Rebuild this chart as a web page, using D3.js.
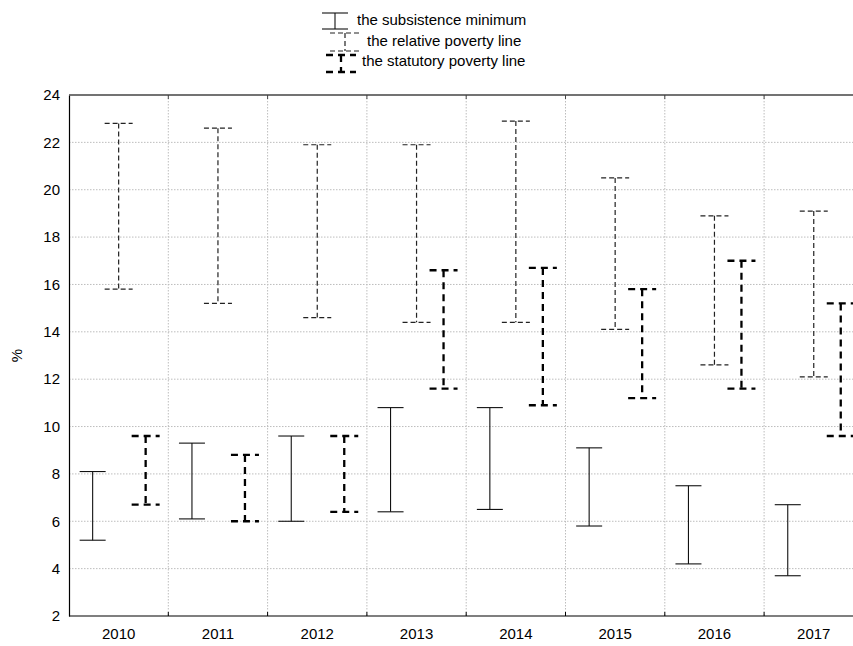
<!DOCTYPE html>
<html>
<head>
<meta charset="utf-8">
<script src="https://cdn.jsdelivr.net/npm/d3@7"></script>
<style>
  body { margin: 0; background: #fff; }
  text { font-family: "Liberation Sans", Arial, sans-serif; }
</style>
</head>
<body>
<svg id="chart" width="853" height="646"></svg>
<script>
const years = ["2010","2011","2012","2013","2014","2015","2016","2017"];
const subsistenceLow  = [5.2, 6.1, 6.0, 6.4, 6.5, 5.8, 4.2, 3.7];
const subsistenceHigh = [8.1, 9.3, 9.6, 10.8, 10.8, 9.1, 7.5, 6.7];
const relativeLow     = [15.8, 15.2, 14.6, 14.4, 14.4, 14.1, 12.6, 12.1];
const relativeHigh    = [22.8, 22.6, 21.9, 21.9, 22.9, 20.5, 18.9, 19.1];
const statutoryLow    = [6.7, 6.0, 6.4, 11.6, 10.9, 11.2, 11.6, 9.6];
const statutoryHigh   = [9.6, 8.8, 9.6, 16.6, 16.7, 15.8, 17.0, 15.2];
const yTicks = [2, 4, 6, 8, 10, 12, 14, 16, 18, 20, 22, 24];
const seriesNames = ["the subsistence minimum", "the relative poverty line", "the statutory poverty line"];

const styles = [
  { stroke: "#111", width: 1.1, dash: null, offset: -26, cap: 26 },
  { stroke: "#222", width: 1.2, dash: "5,3", offset: 0, cap: 28 },
  { stroke: "#000", width: 2.3, dash: "7,5", offset: 27, cap: 28 }
];
const series = [
  years.map((y, i) => ({ year: y, lo: subsistenceLow[i], hi: subsistenceHigh[i] })),
  years.map((y, i) => ({ year: y, lo: relativeLow[i], hi: relativeHigh[i] })),
  years.map((y, i) => ({ year: y, lo: statutoryLow[i], hi: statutoryHigh[i] }))
];

const svg = d3.select("#chart");
const pLeft = 69, pTop = 95, pBottom = 616, band = 99.3;
const x = d3.scaleBand().domain(years).range([pLeft, pLeft + band * years.length]).paddingInner(0).paddingOuter(0);
const y = d3.scaleLinear().domain([2, 24]).range([pBottom, pTop]);

// grid
const grid = svg.append("g");
yTicks.filter(t => t > 2 && t < 24).forEach(t => {
  grid.append("line").attr("x1", pLeft).attr("x2", 853).attr("y1", y(t)).attr("y2", y(t))
    .attr("stroke", "#bdbdbd").attr("stroke-width", 1).attr("stroke-dasharray", "1.5,1.5");
});
years.slice(1).forEach(yr => {
  const gx = x(yr);
  grid.append("line").attr("x1", gx).attr("x2", gx).attr("y1", pTop).attr("y2", pBottom)
    .attr("stroke", "#bdbdbd").attr("stroke-width", 1).attr("stroke-dasharray", "1.5,1.5");
});

// axes
const yAxis = d3.axisLeft(y).tickValues(yTicks).tickSize(0).tickPadding(9);
const gy = svg.append("g").attr("transform", `translate(${pLeft},0)`).call(yAxis);
gy.select(".domain").attr("stroke", "#000").attr("stroke-width", 1.2);
gy.selectAll("text").attr("font-size", 15).attr("fill", "#000");

const xAxis = d3.axisBottom(x).tickSize(0).tickPadding(12);
const gx = svg.append("g").attr("transform", `translate(0,${pBottom})`).call(xAxis);
gx.select(".domain").remove();
gx.selectAll("text").attr("font-size", 15).attr("fill", "#000");
svg.append("line").attr("x1", pLeft).attr("x2", 853).attr("y1", pBottom).attr("y2", pBottom)
  .attr("stroke", "#000").attr("stroke-width", 1.2);
svg.append("line").attr("x1", pLeft).attr("x2", 853).attr("y1", pTop).attr("y2", pTop)
  .attr("stroke", "#444").attr("stroke-width", 1.5);
years.slice(1).forEach(yr => {
  svg.append("line").attr("x1", x(yr)).attr("x2", x(yr)).attr("y1", pBottom).attr("y2", pBottom - 4).attr("stroke", "#000");
  svg.append("line").attr("x1", x(yr)).attr("x2", x(yr)).attr("y1", pTop).attr("y2", pTop + 4).attr("stroke", "#444");
});

// y label
svg.append("text").attr("transform", `translate(22,${(pTop + pBottom) / 2}) rotate(-90)`)
  .attr("text-anchor", "middle").attr("font-size", 15).text("%");

// error bars
series.forEach((s, si) => {
  const st = styles[si];
  const g = svg.append("g");
  s.forEach(d => {
    const cx = x(d.year) + x.bandwidth() / 2 + st.offset;
    const line = (x1, y1, x2, y2) => g.append("line").attr("x1", x1).attr("y1", y1).attr("x2", x2).attr("y2", y2)
      .attr("stroke", st.stroke).attr("stroke-width", st.width).attr("stroke-dasharray", st.dash);
    line(cx, y(d.hi), cx, y(d.lo));
    line(cx - st.cap / 2, y(d.hi), cx + st.cap / 2, y(d.hi));
    line(cx - st.cap / 2, y(d.lo), cx + st.cap / 2, y(d.lo));
  });
});

// legend
const legendRows = [
  { ix: 335, iy0: 13, iy1: 29, tx: 357, ty: 25 },
  { ix: 345, iy0: 33, iy1: 51, tx: 367, ty: 46 },
  { ix: 341, iy0: 55, iy1: 72, tx: 362, ty: 66 }
];
const lg = svg.append("g");
seriesNames.forEach((name, i) => {
  const r = legendRows[i], st = styles[i];
  const line = (x1, y1, x2, y2) => lg.append("line").attr("x1", x1).attr("y1", y1).attr("x2", x2).attr("y2", y2)
    .attr("stroke", st.stroke).attr("stroke-width", st.width).attr("stroke-dasharray", st.dash);
  const hw = i === 0 ? 13 : 15;
  line(r.ix, r.iy0, r.ix, r.iy1);
  line(r.ix - hw, r.iy0, r.ix + hw, r.iy0);
  line(r.ix - hw, r.iy1, r.ix + hw, r.iy1);
  lg.append("text").attr("x", r.tx).attr("y", r.ty).attr("font-size", 15).text(name);
});
</script>
</body>
</html>
